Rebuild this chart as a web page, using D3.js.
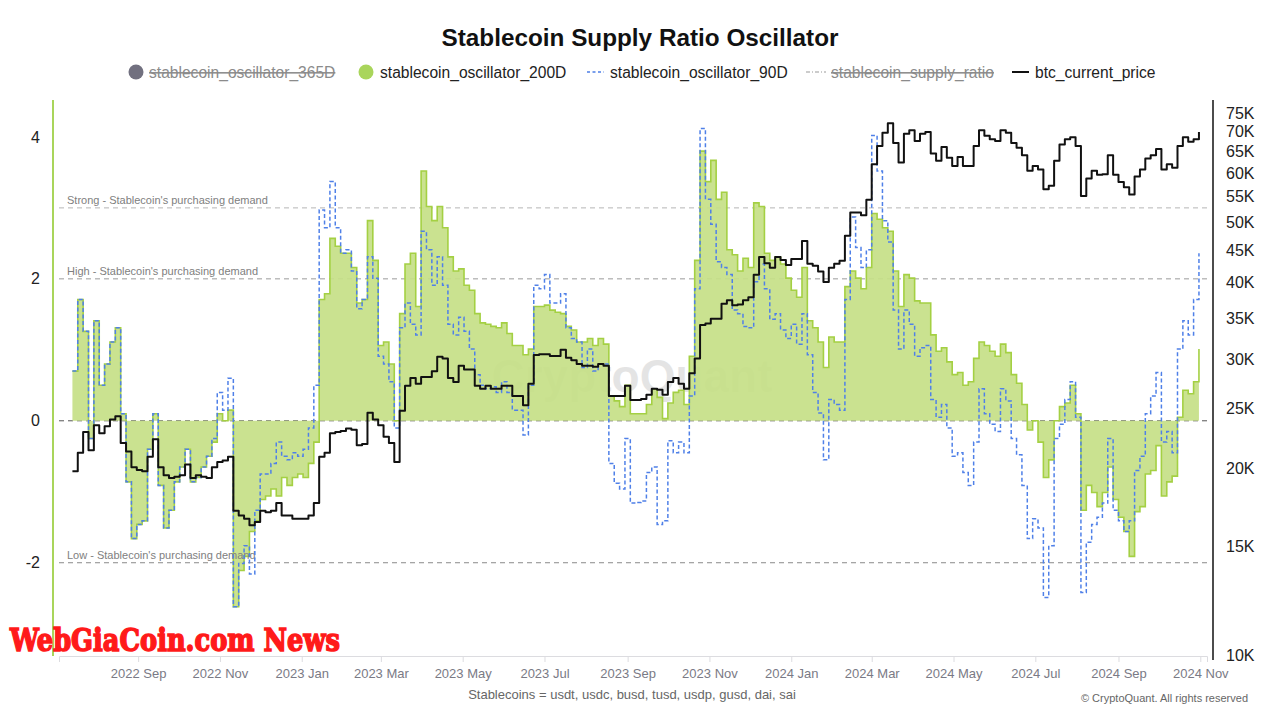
<!DOCTYPE html>
<html><head><meta charset="utf-8">
<script src="https://cdn.jsdelivr.net/npm/d3@7"></script>
<style>
html,body{margin:0;padding:0;background:#fff;}
svg{display:block;font-family:"Liberation Sans",Arial,Helvetica,sans-serif;}
</style></head>
<body>
<svg id="chart" width="1280" height="720"></svg>
<script>
// ---------- DATA (one value every 4 days from 2022-07-14) ----------
const seriesStart = "2022-07-14";
const stepDays = 4;

const osc200D = [0.70,1.71,1.26,-0.25,1.41,0.50,0.80,1.11,1.31,0.10,
-0.86,-1.66,-1.46,-1.41,-0.40,0.10,-0.91,-1.51,-1.26,-0.86,
-0.65,-0.40,-0.86,-0.80,-0.65,-0.50,-0.30,0.10,0.00,0.15,
-2.62,-2.11,-1.91,-1.56,-1.41,-1.11,-1.06,-0.96,-1.06,-0.80,
-0.91,-0.80,-0.75,-0.80,-0.60,-0.30,1.71,1.79,2.57,2.46,
2.36,2.36,2.16,1.66,1.71,2.82,2.26,1.06,1.11,0.80,
0.00,1.51,2.21,2.36,1.61,3.52,3.02,2.82,3.02,2.72,
2.31,2.11,2.14,1.91,1.84,1.51,1.38,1.36,1.33,1.31,
1.38,1.23,1.06,1.06,0.93,1.01,1.61,1.61,1.63,1.56,
1.53,1.51,1.33,1.28,1.11,1.11,1.16,1.06,1.16,1.08,
0.35,0.28,0.20,0.50,0.10,0.10,0.10,0.23,0.45,0.33,
0.03,0.25,0.40,0.43,0.23,0.91,2.26,3.80,3.37,3.67,
3.12,3.22,2.41,2.34,2.11,2.29,2.16,3.07,3.02,2.36,
2.26,2.31,2.21,2.01,1.84,1.74,2.16,1.41,1.31,1.11,
0.75,1.18,1.11,1.11,1.89,2.11,2.01,1.86,2.16,2.92,
2.84,2.72,2.67,2.11,1.61,2.06,2.01,1.69,1.66,1.66,
1.21,0.98,1.03,0.83,0.65,0.68,0.50,0.55,0.88,1.11,
1.06,0.98,0.91,1.08,0.96,0.65,0.53,0.23,-0.13,0.00,
-0.30,-0.80,-0.55,0.00,0.20,0.25,0.50,0.10,-1.26,-0.91,
-1.01,-1.21,-1.01,-0.65,-1.11,-1.36,-1.56,-1.91,-1.28,-1.21,
-0.75,-0.70,-0.35,-1.06,-0.86,-0.78,0.05,0.43,0.38,0.55,
1.01];

const osc90D = [0.70,1.71,1.26,-0.25,1.41,0.50,0.80,1.11,1.31,0.10,
-0.86,-1.66,-1.46,-1.41,-0.40,0.10,-0.91,-1.51,-1.26,-0.86,
-0.65,-0.40,-0.86,-0.80,-0.65,-0.50,-0.25,0.40,0.15,0.60,
-2.62,-2.01,-1.76,-2.16,-1.26,-0.75,-0.75,-0.60,-0.30,-0.50,
-0.55,-0.45,-0.50,-0.40,-0.10,0.50,2.97,2.72,3.37,2.72,
2.36,2.41,2.11,1.58,1.71,2.31,2.01,0.91,0.80,0.55,
-0.10,1.31,1.66,1.36,1.21,2.67,2.41,1.91,2.31,1.91,
1.36,1.21,1.46,1.26,1.01,0.65,0.50,0.45,0.48,0.40,
0.55,0.40,0.15,0.15,-0.20,0.50,1.91,1.86,2.06,1.66,
1.66,1.79,1.31,1.16,1.11,0.75,1.01,0.70,0.80,0.80,
-0.60,-0.88,-0.96,-0.25,-1.16,-1.15,-1.13,-0.73,-0.65,-1.46,
-1.41,-0.28,-0.45,-0.30,-0.45,0.35,1.86,4.12,3.12,2.77,
2.24,2.16,2.06,1.56,1.51,1.33,1.31,1.96,2.21,1.86,
1.43,1.51,1.28,1.16,1.36,1.08,1.51,0.93,0.40,0.11,
-0.55,0.30,0.23,0.15,1.71,2.87,2.44,2.16,2.41,4.02,
3.52,2.82,2.52,1.56,1.01,1.56,1.36,0.91,1.03,1.06,
0.30,0.05,0.23,-0.10,-0.50,-0.45,-0.73,-0.91,-0.30,0.45,
0.10,-0.05,-0.15,0.45,0.28,-0.25,-0.48,-0.91,-1.66,-1.38,
-1.51,-2.49,-1.76,-0.25,-0.05,0.30,0.55,0.05,-2.42,-1.71,
-1.46,-1.36,-1.16,-0.25,-1.26,-1.41,-1.56,-1.41,-0.70,-0.50,
0.10,0.35,0.68,-0.30,-0.15,-0.45,1.01,1.41,1.21,1.71,
2.36];

const btcPriceK = [19.8,21.2,22.9,21.4,23.5,22.8,23.4,24.0,24.3,22.0,
21.3,20.1,19.9,19.8,20.9,22.3,20.1,19.5,19.3,19.4,
19.5,20.3,19.3,19.5,19.4,19.3,20.1,20.5,20.6,20.9,
17.1,16.8,16.6,16.2,16.4,17.1,17.0,17.1,17.6,16.8,
16.8,16.6,16.6,16.6,16.8,17.6,20.9,21.2,22.8,22.9,
23.0,23.2,23.1,21.8,21.9,24.6,24.0,23.5,22.5,22.0,
20.5,24.8,27.2,28.0,27.4,28.1,28.1,28.7,30.3,30.1,
28.0,27.6,29.3,28.9,28.9,27.2,26.9,27.2,26.9,26.9,
27.2,27.2,26.2,26.2,25.3,27.4,30.5,30.6,30.6,30.4,
30.4,31.1,30.2,29.9,29.5,29.3,29.3,29.2,29.5,29.3,
26.2,26.2,26.2,27.2,25.8,25.8,25.9,26.3,26.9,26.8,
26.3,27.6,28.0,27.4,26.9,28.5,30.1,34.1,34.3,34.9,
34.9,36.9,37.4,36.7,36.8,37.4,37.8,41.1,43.9,42.9,
42.2,43.9,43.4,42.6,43.6,43.6,46.6,42.8,42.5,41.6,
40.0,42.2,42.8,43.3,47.5,51.8,51.8,51.3,54.3,62.0,
66.3,69.7,72.2,67.1,62.4,69.4,70.3,67.6,69.4,69.9,
64.5,62.8,66.1,63.5,61.6,63.7,61.6,61.6,66.3,70.3,
68.9,68.0,67.6,70.3,69.7,67.1,65.9,64.1,60.5,61.6,
60.8,56.5,57.2,62.8,66.7,68.0,68.5,66.3,55.1,58.8,
60.5,59.6,59.7,64.1,59.6,58.0,56.9,55.4,59.2,60.8,
63.3,64.1,65.6,60.8,62.0,61.2,66.3,68.5,67.4,68.0,
69.9];

const leftTicks = [-2, 0, 2, 4];
const rightTicks = [10000,15000,20000,25000,30000,35000,40000,45000,50000,55000,60000,65000,70000,75000];
const refLevels = [3, 2, 0, -2];
const refLabels = ["Strong - Stablecoin's purchasing demand","High - Stablecoin's purchasing demand","","Low - Stablecoin's purchasing demand"];
const legendNames = ["stablecoin_oscillator_365D","stablecoin_oscillator_200D","stablecoin_oscillator_90D","stablecoin_supply_ratio","btc_current_price"];

// ---------- BUILD ----------
const parse = d3.timeParse("%Y-%m-%d");
const t0 = parse(seriesStart);
const dates = osc200D.map((_, i) => d3.timeDay.offset(t0, i * stepDays));
const rows = dates.map((d, i) => ({date: d, o200: osc200D[i], o90: osc90D[i], btc: btcPriceK[i] * 1000}));

const svg = d3.select("#chart");
const L = 59, R = 1207, T = 100, B = 655;

const x = d3.scaleTime().domain([parse("2022-07-04"), parse("2024-11-06")]).range([L, R]);
const yL = d3.scaleLinear().domain([-3.3, 4.52]).range([B, T]);
const yR = d3.scaleLog().domain([10000, 78700]).range([B, T]);

// title
svg.append("text").attr("x", 640).attr("y", 46).attr("text-anchor", "middle")
  .attr("font-size", 24.3).attr("font-weight", "bold").attr("fill", "#111")
  .text("Stablecoin Supply Ratio Oscillator");

// legend
const lg = svg.append("g").attr("font-size", 15.6);
const ly = 72;
lg.append("circle").attr("cx", 136).attr("cy", ly).attr("r", 7.5).attr("fill", "#71707f");
lg.append("text").attr("x", 149).attr("y", ly + 5.5).attr("fill", "#8b8b8b")
  .attr("text-decoration", "line-through").text(legendNames[0]);
lg.append("circle").attr("cx", 366).attr("cy", ly).attr("r", 7.5).attr("fill", "#a9d55b");
lg.append("text").attr("x", 380).attr("y", ly + 5.5).attr("fill", "#222").text(legendNames[1]);
lg.append("line").attr("x1", 587).attr("x2", 604).attr("y1", ly).attr("y2", ly)
  .attr("stroke", "#4d7fe6").attr("stroke-width", 1.5).attr("stroke-dasharray", "3,2.5");
lg.append("text").attr("x", 610).attr("y", ly + 5.5).attr("fill", "#222").text(legendNames[2]);
lg.append("line").attr("x1", 806).attr("x2", 826).attr("y1", ly).attr("y2", ly)
  .attr("stroke", "#9a9a9a").attr("stroke-width", 1.2).attr("stroke-dasharray", "4,2,1,2");
lg.append("text").attr("x", 831).attr("y", ly + 5.5).attr("fill", "#8b8b8b")
  .attr("text-decoration", "line-through").text(legendNames[3]);
lg.append("line").attr("x1", 1012).attr("x2", 1029).attr("y1", ly).attr("y2", ly)
  .attr("stroke", "#111").attr("stroke-width", 2);
lg.append("text").attr("x", 1035).attr("y", ly + 5.5).attr("fill", "#222").text(legendNames[4]);

// watermark
svg.append("text").attr("x", 632).attr("y", 392).attr("text-anchor", "middle")
  .attr("font-size", 46).attr("font-weight", "bold").attr("fill", "#000").attr("opacity", 0.1)
  .text("CryptoQuant");

// reference lines
const refColors = ["#b5b5b5", "#9a9a9a", "#555", "#8a8a8a"];
refLevels.forEach((v, i) => {
  svg.append("line").attr("x1", L).attr("x2", R).attr("y1", yL(v)).attr("y2", yL(v))
    .attr("stroke", refColors[i]).attr("stroke-width", 1).attr("stroke-dasharray", "5,4");
});

// series
const area = d3.area().curve(d3.curveStepAfter)
  .x(d => x(d.date)).y0(yL(0)).y1(d => yL(d.o200));
svg.append("path").datum(rows).attr("d", area).attr("fill", "#c5e087").attr("opacity", 0.92);
const line200 = d3.line().curve(d3.curveStepAfter).x(d => x(d.date)).y(d => yL(d.o200));
svg.append("path").datum(rows).attr("d", line200).attr("fill", "none")
  .attr("stroke", "#a4d043").attr("stroke-width", 1.6);

// ref labels (drawn above area)
refLevels.forEach((v, i) => {
  if (refLabels[i]) svg.append("text").attr("x", 67).attr("y", yL(v) - 4)
    .attr("font-size", 11).attr("fill", "#808080").text(refLabels[i]);
});

const line90 = d3.line().curve(d3.curveStepAfter).x(d => x(d.date)).y(d => yL(d.o90));
svg.append("path").datum(rows).attr("d", line90).attr("fill", "none")
  .attr("stroke", "#4f80e8").attr("stroke-width", 1.5).attr("stroke-dasharray", "4,2.5");

const lineBtc = d3.line().curve(d3.curveStepAfter).x(d => x(d.date)).y(d => yR(d.btc));
svg.append("path").datum(rows).attr("d", lineBtc).attr("fill", "none")
  .attr("stroke", "#111").attr("stroke-width", 2).attr("stroke-linejoin", "round");

// left axis
svg.append("line").attr("x1", 53).attr("x2", 53).attr("y1", T).attr("y2", B + 1)
  .attr("stroke", "#a9d55b").attr("stroke-width", 2);
const gl = svg.append("g").attr("transform", "translate(53,0)")
  .call(d3.axisLeft(yL).tickValues(leftTicks).tickSize(0).tickPadding(13).tickFormat(d => String(d)));
gl.select(".domain").remove();
gl.selectAll("text").attr("font-size", 16).attr("fill", "#222").attr("font-family", "Liberation Sans, Arial, sans-serif");

// right axis
svg.append("line").attr("x1", 1213).attr("x2", 1213).attr("y1", T).attr("y2", B + 5)
  .attr("stroke", "#111").attr("stroke-width", 1.5);
const gr = svg.append("g").attr("transform", "translate(1213,0)")
  .call(d3.axisRight(yR).tickValues(rightTicks).tickSize(0).tickPadding(13).tickFormat(d => (d / 1000) + "K"));
gr.select(".domain").remove();
gr.selectAll("text").attr("font-size", 16).attr("fill", "#222").attr("font-family", "Liberation Sans, Arial, sans-serif");

// x axis
const gx = svg.append("g").attr("transform", `translate(0,${B + 1})`)
  .call(d3.axisBottom(x).ticks(d3.timeMonth.every(2)).tickSize(6).tickPadding(7)
    .tickFormat(d3.timeFormat("%Y %b")));
gx.select(".domain").attr("stroke", "#dcdce0");
gx.selectAll(".tick line").attr("stroke", "#dcdce0");
gx.selectAll("text").attr("font-size", 13).attr("fill", "#7a7a85").attr("font-family", "Liberation Sans, Arial, sans-serif");

// footer
svg.append("text").attr("x", 632).attr("y", 699).attr("text-anchor", "middle")
  .attr("font-size", 13).attr("fill", "#666").text("Stablecoins = usdt, usdc, busd, tusd, usdp, gusd, dai, sai");
svg.append("text").attr("x", 1248).attr("y", 702).attr("text-anchor", "end")
  .attr("font-size", 11).attr("fill", "#666").text("© CryptoQuant. All rights reserved");

// overlay brand text
svg.append("text").attr("x", 10).attr("y", 651)
  .attr("font-family", "DejaVu Serif, serif").attr("font-weight", "bold")
  .attr("font-size", 32).attr("fill", "#ff1a1a").attr("stroke", "#ff1a1a").attr("stroke-width", 1.6)
  .attr("textLength", 330).attr("lengthAdjust", "spacingAndGlyphs")
  .text("WebGiaCoin.com News");
</script>
</body></html>
